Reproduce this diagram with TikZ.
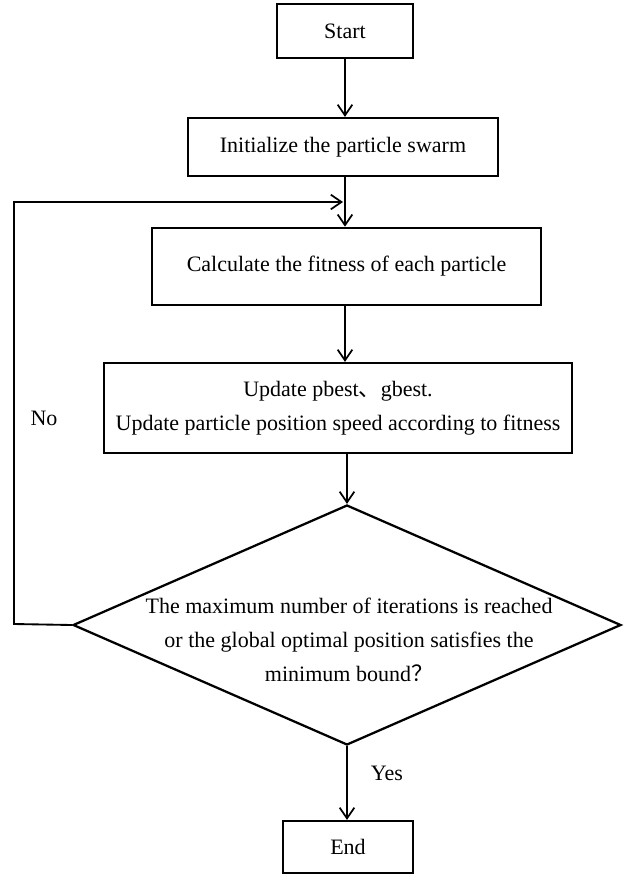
\documentclass[tikz,border=0pt]{standalone}
\usepackage{fontspec}
\setmainfont{Liberation Serif}
\newfontfamily\cjk{Noto Sans CJK SC}
\usetikzlibrary{shapes.geometric,arrows.meta}

\tikzset{
  procbox/.style={draw, line width=1.7pt, inner sep=0pt},
  decision/.style={draw, diamond, line width=1.7pt, inner sep=0pt},
  flow/.style={line width=1.4pt, -{Straight Barb[length=8pt,width=11pt,line width=1.3pt]}},
  txt/.style={align=center, font=\fontsize{16.5}{25.5}\selectfont}
}

\begin{document}
\begin{tikzpicture}[x=0.75pt, y=-0.75pt]
    \useasboundingbox (0,0) rectangle (630,875);

    % Define the nodes
    \node[procbox, txt, minimum width=102pt, minimum height=40pt] (start) at (345, 31) {Start};
    \node[procbox, txt, minimum width=232.5pt, minimum height=43.5pt] (init) at (343, 147) {Initialize the particle swarm};
    \node[procbox, txt, minimum width=292pt, minimum height=58pt] (calc) at (346.5, 266.5) {Calculate the fitness of each particle};
    \node[procbox, txt, minimum width=351pt, minimum height=67.5pt] (update) at (338, 408)
        {Update pbest{\cjk 、}gbest.\\Update particle position speed according to fitness};
    \node[decision, minimum width=411pt, minimum height=180pt] (dec) at (347, 625) {};
    \node[txt] (dectext) at (349, 640)
        {The maximum number of iterations is reached\\or the global optimal position satisfies the\\minimum bound{\cjk ？}};
    \node[procbox, txt, minimum width=97.5pt, minimum height=39pt] (end) at (348, 847) {End};

    \node[txt] (no) at (44, 418) {No};
    \node[txt] (yes) at (387, 773) {Yes};

    \coordinate (lcorner) at (14, 624);
    \coordinate (ltop) at (14, 202);
    \coordinate (lin) at (343, 202);

    % Draw the edges
    \draw[flow] (start) -- (start |- init.north);
    \draw[flow] (init.south -| start) -- (start |- calc.north);
    \draw[flow] (calc.south -| start) -- (start |- update.north);
    \draw[flow] (update.south -| dec) -- (dec.north);
    \draw[flow] (dec.south) -- (dec |- end.north);

    \draw[flow] (dec.west) -- (lcorner) -- (ltop) -- (lin);
\end{tikzpicture}
\end{document}
